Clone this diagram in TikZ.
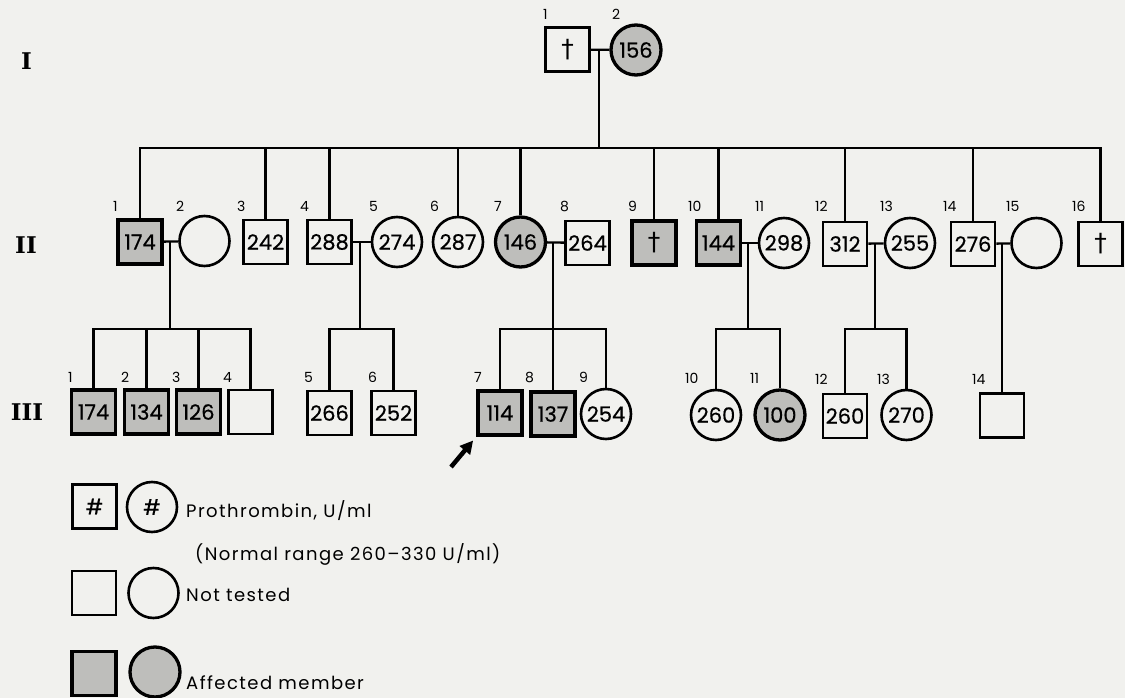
\documentclass[tikz,border=0pt]{standalone}
\usepackage{fontspec}
\setmainfont{Poppins}
\newfontfamily\numfont{Poppins}[FakeBold=0.6]
\newfontfamily\legfont{Poppins}[LetterSpace=8]
\newfontfamily\romfont{DejaVu Serif}
\newfontfamily\symfont{DejaVu Sans}
\usetikzlibrary{arrows.meta,calc}
\definecolor{paper}{RGB}{241,241,238}
\definecolor{shade}{RGB}{190,190,187}
\tikzset{
  person/.style={draw=black, line width=2.6pt, inner sep=0pt, text=black,
    font=\numfont\fontsize{21}{21}\selectfont},
  male/.style={person, rectangle, minimum width=44pt, minimum height=44pt},
  female/.style={person, circle, minimum size=50pt},
  aff/.style={fill=shade, line width=3.3pt},
  lab/.style={font=\fontsize{14}{14}\selectfont, inner sep=0pt, anchor=south west},
  gen/.style={font=\romfont\bfseries\fontsize{23}{23}\selectfont, inner sep=0pt},
  conn/.style={line width=2.3pt, line join=miter},
  legtext/.style={font=\legfont\fontsize{18}{18}\selectfont, inner sep=0pt, anchor=west},
}
\newcommand{\dg}{{\symfont\fontsize{25}{25}\selectfont †}}
\begin{document}
\begin{tikzpicture}[x=1pt,y=-1pt]
\fill[paper] (0,0) rectangle (1125,698);
\useasboundingbox (0,0) rectangle (1125,698);

% generation numerals
\node[gen] (gI) at (26.5,61) {I};
\node[gen] (gII) at (26,245) {II};
\node[gen] (gIII) at (27,412) {III};

% generation I
\node[male] (I1) at (567.5,49.5) {\dg};
\node[female,aff] (I2) at (636,50) {156};
\node[lab] (lI1) at (543,20) {1};
\node[lab] (lI2) at (612,20) {2};

% generation II
\node[male,aff] (II1) at (140,242) {174};
\node[female] (II2) at (204.5,241) {};
\node[male] (II3) at (265.5,242) {242};
\node[male] (II4) at (329.5,242) {288};
\node[female] (II5) at (397,242) {274};
\node[female] (II6) at (458,242) {287};
\node[female,aff] (II7) at (520.5,242) {146};
\node[male] (II8) at (587.5,243) {264};
\node[male,aff] (II9) at (654,243) {\dg};
\node[male,aff] (II10) at (718.5,243) {144};
\node[female] (II11) at (784,243) {298};
\node[male] (II12) at (845,244) {312};
\node[female] (II13) at (910,243) {255};
\node[male] (II14) at (973,244) {276};
\node[female] (II15) at (1036.5,243) {};
\node[male] (II16) at (1100.5,244) {\dg};

\node[lab] (lII1) at (113,212) {1};
\node[lab] (lII2) at (176,212) {2};
\node[lab] (lII3) at (237,212) {3};
\node[lab] (lII4) at (300,212) {4};
\node[lab] (lII5) at (369,212) {5};
\node[lab] (lII6) at (430,212) {6};
\node[lab] (lII7) at (494,212) {7};
\node[lab] (lII8) at (560,212) {8};
\node[lab] (lII9) at (628,212) {9};
\node[lab] (lII10) at (688,212) {10};
\node[lab] (lII11) at (755,212) {11};
\node[lab] (lII12) at (815,212) {12};
\node[lab] (lII13) at (880,212) {13};
\node[lab] (lII14) at (943,212) {14};
\node[lab] (lII15) at (1006,212) {15};
\node[lab] (lII16) at (1072,212) {16};

% generation III
\node[male,aff] (III1) at (93.5,412) {174};
\node[male,aff] (III2) at (146.5,412) {134};
\node[male,aff] (III3) at (198.5,412) {126};
\node[male] (III4) at (250.5,412) {};
\node[male] (III5) at (329.5,413) {266};
\node[male] (III6) at (393.5,413) {252};
\node[male,aff] (III7) at (500,413) {114};
\node[male,aff] (III8) at (553,414) {137};
\node[female] (III9) at (606,414) {254};
\node[female] (III10) at (716,415) {260};
\node[female,aff] (III11) at (780,415) {100};
\node[male] (III12) at (845,416) {260};
\node[female] (III13) at (906.5,415) {270};
\node[male] (III14) at (1002,415.5) {};

\node[lab] (lIII1) at (68,383) {1};
\node[lab] (lIII2) at (121,383) {2};
\node[lab] (lIII3) at (172,383) {3};
\node[lab] (lIII4) at (223,383) {4};
\node[lab] (lIII5) at (304,383) {5};
\node[lab] (lIII6) at (368,383) {6};
\node[lab] (lIII7) at (474,383) {7};
\node[lab] (lIII8) at (525,383) {8};
\node[lab] (lIII9) at (579,383) {9};
\node[lab] (lIII10) at (685,384) {10};
\node[lab] (lIII11) at (750,384) {11};
\node[lab] (lIII12) at (815,385) {12};
\node[lab] (lIII13) at (877,385) {13};
\node[lab] (lIII14) at (972,385) {14};

% helper coordinates
\coordinate (g2) at (0,148);
\coordinate (g3) at (0,329);
\coordinate (dI) at (599,50);
\coordinate (d1) at (170,242);
\coordinate (d2) at (360,242);
\coordinate (d3) at (553,242);
\coordinate (d4) at (748,243);
\coordinate (d5) at (875,243);
\coordinate (d6) at (1002,243);

% gen I couple and descent
\draw[conn] (I1) -- (I2);
\draw[conn] (dI) -- (dI |- g2);
\draw[conn] (II1.north) -- (II1.north |- g2) -- (II16.north |- g2) -- (II16.north);
\foreach \n in {3,4,6,7,9,10,12,14} {
  \draw[conn] (II\n.north) -- (II\n.north |- g2);
}

% gen II couples
\draw[conn] (II1) -- (II2);
\draw[conn] (II4) -- (II5);
\draw[conn] (II7) -- (II8);
\draw[conn] (II10) -- (II11);
\draw[conn] (II12) -- (II13);
\draw[conn] (II14) -- (II15);

% sibships of generation III
\draw[conn] (d1) -- (d1 |- g3);
\draw[conn] (III1.north) -- (III1.north |- g3) -- (III4.north |- g3) -- (III4.north);
\draw[conn] (III2.north) -- (III2.north |- g3);
\draw[conn] (III3.north) -- (III3.north |- g3);

\draw[conn] (d2) -- (d2 |- g3);
\draw[conn] (III5.north) -- (III5.north |- g3) -- (III6.north |- g3) -- (III6.north);

\draw[conn] (d3) -- (III8.north);
\draw[conn] (III7.north) -- (III7.north |- g3) -- (III9.north |- g3) -- (III9.north);

\draw[conn] (d4) -- (d4 |- g3);
\draw[conn] (III10.north) -- (III10.north |- g3) -- (III11.north |- g3) -- (III11.north);

\draw[conn] (d5) -- (d5 |- g3);
\draw[conn] (III12.north) -- (III12.north |- g3) -- (III13.north |- g3) -- (III13.north);

\draw[conn] (d6) -- (III14.north);

% proband arrow
\coordinate (arT) at (451,467);
\draw[line width=4.5pt, -{Triangle[length=13pt,width=13pt]}, shorten >=5pt] (arT) -- (III7.south west);

% legend
\node[male] (L1) at (94.5,506.5) {\#};
\node[female] (L2) at (152,507) {\#};
\node[legtext] (T1) at (186,511) {Prothrombin, U/ml};
\node[legtext] (T2) at (195,554) {(Normal range 260–330 U/ml)};
\node[male] (L3) at (94,593) {};
\node[female] (L4) at (153.5,593) {};
\node[legtext] (T3) at (186,595) {Not tested};
\node[male,aff] (L5) at (94,673.5) {};
\node[female,aff] (L6) at (155,672) {};
\node[legtext] (T4) at (186,683) {Affected member};
\end{tikzpicture}
\end{document}
